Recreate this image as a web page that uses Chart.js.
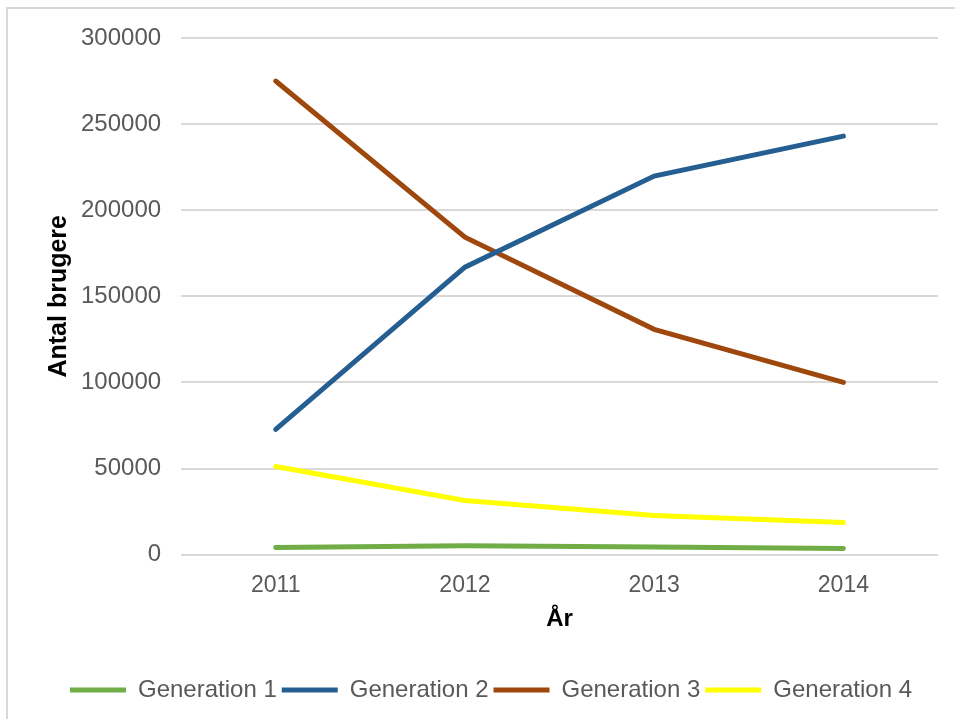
<!DOCTYPE html>
<html>
<head>
<meta charset="utf-8">
<script src="https://cdn.jsdelivr.net/npm/chart.js@4"></script>
<style>
    html, body { margin: 0; padding: 0; background: #fff; overflow: hidden; }
    #frame { position: absolute; left: 6px; top: 7px; width: 960px; height: 730px; border: 2px solid #d9d9d9; box-sizing: border-box; }
    #wrap { position: absolute; left: 0; top: 0; width: 955px; height: 719px; }
</style>
</head>
<body>
<div id="frame"></div>
<div id="wrap"><canvas id="c"></canvas></div>
<script>
    var years = ['2011', '2012', '2013', '2014'];
    var gen1 = [4100, 5200, 4400, 3600];
    var gen2 = [72700, 166900, 219800, 243000];
    var gen3 = [275000, 184300, 130800, 100000];
    var gen4 = [51200, 31400, 22700, 18600];
    var names = ['Generation 1', 'Generation 2', 'Generation 3', 'Generation 4'];
    var colors = ['#70ad47', '#255e91', '#9e480e', '#ffff00'];

    var series = [gen1, gen2, gen3, gen4];
    var FONT = "'Liberation Sans', Arial, sans-serif";

    new Chart(document.getElementById('c'), {
        type: 'line',
        data: {
            labels: years,
            datasets: series.map(function (vals, i) {
                return {
                    label: names[i],
                    data: vals,
                    borderColor: colors[i],
                    backgroundColor: colors[i],
                    borderWidth: 5,
                    borderCapStyle: 'round',
                    pointRadius: 0,
                    tension: 0,
                };
            })
        },
        options: {
            responsive: true,
            maintainAspectRatio: false,
            animation: false,
            layout: {padding: {left: 44, right: 17, top: 38, bottom: 7}},
            plugins: {
                tooltip: {enabled: false},
                legend: {
                    position: 'bottom',
                    labels: {
                        usePointStyle: true,
                        pointStyle: 'line',
                        pointStyleWidth: 56,
                        padding: 5,
                        color: '#595959',
                        font: {family: FONT, size: 24}
                    }
                }
            },
            scales: {
                x: {
                    offset: true,
                    grid: {display: false},
                    border: {display: false},
                    ticks: {color: '#595959', padding: 9, font: {family: FONT, size: 23}},
                    title: {display: true, text: 'År', color: '#000', padding: {top: -3, bottom: 39}, font: {family: FONT, size: 24, weight: 'bold'}}
                },
                y: {
                    min: 0,
                    max: 300000,
                    ticks: {
                        stepSize: 50000, color: '#595959', padding: 20, font: {family: FONT, size: 24},
                        callback: function (v) { return String(v); }
                    },
                    grid: {color: '#d9d9d9', lineWidth: 2, drawTicks: false},
                    border: {display: false},
                    title: {display: true, text: 'Antal brugere', color: '#000', padding: {top: 0, bottom: -13}, font: {family: FONT, size: 25, weight: 'bold'}}
                }
            }
        }
    });
</script>
</body>
</html>
